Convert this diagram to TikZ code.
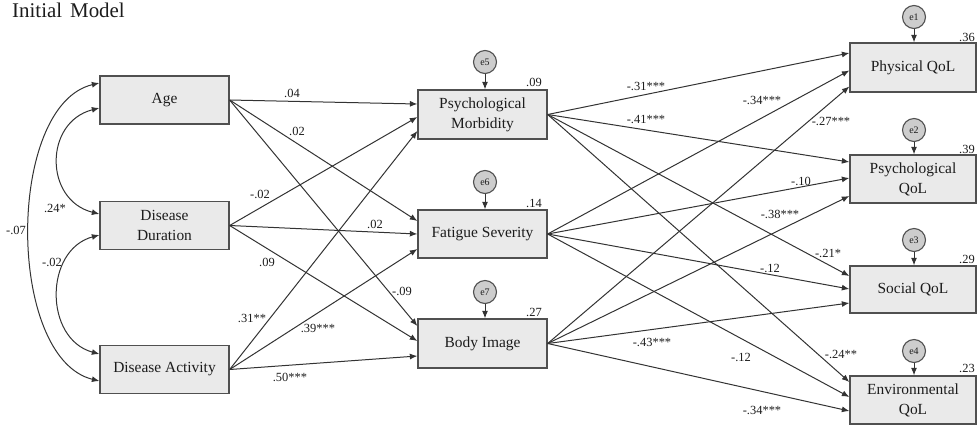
\documentclass[tikz,border=0pt]{standalone}
\usepackage{fontspec}
\setmainfont{Liberation Serif}
\usetikzlibrary{arrows.meta,calc}
\definecolor{ink}{HTML}{1C1C1C}
\definecolor{edge}{HTML}{333333}
\definecolor{boxline}{HTML}{505050}
\definecolor{boxfill}{HTML}{EAEAEA}
\definecolor{errfill}{HTML}{CDCDCD}
\begin{document}
\begin{tikzpicture}[x=1bp,y=-1bp,
  box/.style={draw=boxline, fill=boxfill, line width=1.3bp, minimum width=129bp, minimum height=48bp,
    inner sep=0pt, align=center, text=ink, font=\fontsize{15.5}{20}\selectfont},
  rbox/.style={box, minimum width=126bp},
  err/.style={circle, draw=boxline, fill=errfill, line width=1.1bp, minimum size=23bp, inner sep=0pt,
    text=ink, font=\fontsize{10}{12}\selectfont},
  tip/.tip={Latex[length=7.5bp,width=6bp]},
  arr/.style={draw=edge, line width=1bp, -tip},
  cov/.style={draw=edge, line width=1bp, tip-tip},
  lab/.style={inner sep=0pt, text=ink, font=\fontsize{12.5}{14}\selectfont},
  rsq/.style={inner sep=0pt, text=ink, font=\fontsize{12.5}{14}\selectfont}
]
\useasboundingbox (0,0) rectangle (978,427);

\node[inner sep=0pt, anchor=base west, text=ink, font=\fontsize{21}{24}\selectfont] (title) at (12,17) {Initial\hspace{8bp}Model};

% exogenous
\node[box] (age) at (164.5,100) {Age};
\node[box] (dur) at (164.5,225.5) {Disease\\Duration};
\node[box] (act) at (164.5,369.5) {Disease Activity};

% mediators
\node[box, minimum height=49bp] (pm) at (482.5,114.5) {Psychological\\Morbidity};
\node[box] (fs) at (482.5,234) {Fatigue\hspace{4bp}Severity};
\node[box, minimum height=49bp] (bi) at (482.5,343.5) {Body Image};

% outcomes
\node[rbox, minimum height=49bp] (phy) at (913,67.5) {Physical QoL};
\node[rbox] (psy) at (913,179) {Psychological\\QoL};
\node[rbox, minimum height=47bp] (soc) at (913,289.5) {Social QoL};
\node[rbox] (env) at (913,400) {Environmental\\QoL};

% error terms
\node[err] (e5) at (485,62) {e5};
\node[err] (e6) at (485,182) {e6};
\node[err] (e7) at (485,292) {e7};
\node[err] (e1) at (914,17) {e1};
\node[err] (e2) at (914,130) {e2};
\node[err] (e3) at (914,240) {e3};
\node[err] (e4) at (914,351) {e4};

\draw[arr] (e5.south) -- (e5.south |- pm.north);
\draw[arr] (e6.south) -- (e6.south |- fs.north);
\draw[arr] (e7.south) -- (e7.south |- bi.north);
\draw[arr] (e1.south) -- (e1.south |- phy.north);
\draw[arr] (e2.south) -- (e2.south |- psy.north);
\draw[arr] (e3.south) -- (e3.south |- soc.north);
\draw[arr] (e4.south) -- (e4.south |- env.north);

% R squared
\node[rsq] (r5) at (534,82) {.09};
\node[rsq] (r6) at (534,203) {.14};
\node[rsq] (r7) at (534,312) {.27};
\node[rsq] (r1) at (967,37) {.36};
\node[rsq] (r2) at (967,149) {.39};
\node[rsq] (r3) at (967,259) {.29};
\node[rsq] (r4) at (967,368) {.23};

% exogenous -> mediators
\draw[arr] (age.east) -- ($(pm.west)+(0,-10.5)$);
\draw[arr] (dur.east) -- ($(pm.west)+(0,2.5)$);
\draw[arr] (act.east) -- ($(pm.west)+(0,16.5)$);
\draw[arr] (age.east) -- ($(fs.west)+(0,-13)$);
\draw[arr] (dur.east) -- ($(fs.west)+(0,0)$);
\draw[arr] (act.east) -- ($(fs.west)+(0,15)$);
\draw[arr] (age.east) -- ($(bi.west)+(0,-17.5)$);
\draw[arr] (dur.east) -- ($(bi.west)+(0,-2.5)$);
\draw[arr] (act.east) -- ($(bi.west)+(0,12.5)$);

% mediators -> outcomes
\draw[arr] (pm.east) -- ($(phy.west)+(0,-14.5)$);
\draw[arr] (fs.east) -- ($(phy.west)+(0,3)$);
\draw[arr] (bi.east) -- ($(phy.west)+(0,19)$);
\draw[arr] (pm.east) -- ($(psy.west)+(0,-17)$);
\draw[arr] (fs.east) -- ($(psy.west)+(0,-1)$);
\draw[arr] (bi.east) -- ($(psy.west)+(0,17)$);
\draw[arr] (pm.east) -- ($(soc.west)+(0,-13.5)$);
\draw[arr] (fs.east) -- ($(soc.west)+(0,-0.5)$);
\draw[arr] (bi.east) -- ($(soc.west)+(0,13.5)$);
\draw[arr] (pm.east) -- ($(env.west)+(0,-18)$);
\draw[arr] (fs.east) -- ($(env.west)+(0,-3)$);
\draw[arr] (bi.east) -- ($(env.west)+(0,11)$);

% covariances
\draw[cov] ($(age.west)+(0,8)$) .. controls (44,122) and (44,200) .. ($(dur.west)+(0,-11.5)$);
\draw[cov] ($(dur.west)+(0,9.5)$) .. controls (44,250) and (44,339) .. ($(act.west)+(0,-15.5)$);
\draw[cov] ($(age.west)+(0,-17)$) .. controls (6,105) and (6,358) .. ($(act.west)+(0,11.5)$);

% covariance labels
\node[lab] (c1) at (55,208) {.24*};
\node[lab] (c2) at (16,230) {-.07};
\node[lab] (c3) at (52,262) {-.02};

% path labels (left)
\node[lab] (l1) at (292,93) {.04};
\node[lab] (l2) at (297,131) {.02};
\node[lab] (l3) at (260,194) {-.02};
\node[lab] (l4) at (375,224) {.02};
\node[lab] (l5) at (267,262) {.09};
\node[lab] (l6) at (402,291) {-.09};
\node[lab] (l7) at (252,318) {.31**};
\node[lab] (l8) at (318,328) {.39***};
\node[lab] (l9) at (290,377) {.50***};

% path labels (right)
\node[lab] (m1) at (646,86) {-.31***};
\node[lab] (m2) at (646,119) {-.41***};
\node[lab] (m3) at (762,100) {-.34***};
\node[lab] (m4) at (831,121) {-.27***};
\node[lab] (m5) at (801,181) {-.10};
\node[lab] (m6) at (780,214) {-.38***};
\node[lab] (m7) at (828,253) {-.21*};
\node[lab] (m8) at (770,268) {-.12};
\node[lab] (m9) at (652,342) {-.43***};
\node[lab] (m10) at (741,357) {-.12};
\node[lab] (m11) at (841,354) {-.24**};
\node[lab] (m12) at (762,410) {-.34***};
\end{tikzpicture}
\end{document}
